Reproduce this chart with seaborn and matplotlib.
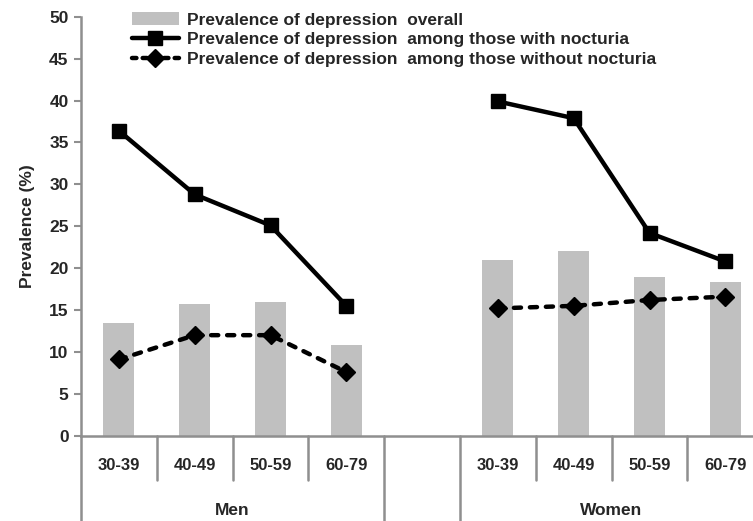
import matplotlib
matplotlib.use('Agg')
import matplotlib.pyplot as plt
import matplotlib.transforms as mtransforms
from matplotlib.lines import Line2D
from matplotlib.patches import Patch
import seaborn as sns
import pandas as pd

sns.set_theme(style='white')
plt.rcParams['font.family'] = ['Liberation Sans', 'DejaVu Sans']
plt.rcParams['font.weight'] = 'bold'

# data
age_groups = ['30-39', '40-49', '50-59', '60-79']
sexes = ['Men', 'Women']
overall = {'Men': [13.5, 15.7, 16.0, 10.8], 'Women': [21.0, 22.0, 19.0, 18.3]}
with_nocturia = {'Men': [36.4, 28.8, 25.1, 15.5], 'Women': [39.9, 37.9, 24.2, 20.8]}
without_nocturia = {'Men': [9.1, 12.0, 12.0, 7.6], 'Women': [15.2, 15.5, 16.2, 16.6]}

legend_labels = ['Prevalence of depression  overall',
                 'Prevalence of depression  among those with nocturia',
                 'Prevalence of depression  among those without nocturia']

# build long table; one empty slot between the two groups
rows = []
for g, sex in enumerate(sexes):
    for i, age in enumerate(age_groups):
        rows.append({'sex': sex, 'age': age, 'slot': g * (len(age_groups) + 1) + i,
                     'overall': overall[sex][i],
                     'with': with_nocturia[sex][i],
                     'without': without_nocturia[sex][i]})
df = pd.DataFrame(rows)
n_slots = len(age_groups) * 2 + 1

axis_grey = '#8f8f8f'
bar_grey = '#c0c0c0'
dash = (0, (1.6, 2.0))

fig = plt.figure(figsize=(7.53, 5.21), dpi=100)
ax = fig.add_axes([0.1076, 0.1637, 1.0 - 0.1076, 0.804])

sns.barplot(data=df, x='slot', y='overall', native_scale=True, width=0.41,
            color=bar_grey, saturation=1, edgecolor='none', ax=ax)

for sex in sexes:
    sub = df[df['sex'] == sex]
    ax.plot(sub['slot'], sub['with'], color='black', lw=3.2, marker='s', ms=10.5,
            solid_joinstyle='miter')
    ax.plot(sub['slot'], sub['without'], color='black', lw=3.2, ls=dash,
            marker='D', ms=9, dash_capstyle='round')

ax.set_ylim(0, 50)
ax.set_yticks(range(0, 51, 5))
ax.set_xlim(-0.5, -0.5 + 672 / 75.8)
ax.set_xticks([])
ax.set_xlabel('')
ax.set_ylabel('Prevalence (%)', fontsize=12.5, fontweight='bold', labelpad=10)
ax.tick_params(axis='y', left=True, length=5, width=1.5, color=axis_grey,
               labelsize=12.5, pad=4)
for lab in ax.get_yticklabels():
    lab.set_fontweight('bold')

for side in ['top', 'right']:
    ax.spines[side].set_visible(False)
for side in ['left', 'bottom']:
    ax.spines[side].set_color(axis_grey)
    ax.spines[side].set_linewidth(1.8)

# category / group separators below the axis
trans = mtransforms.blended_transform_factory(ax.transData, ax.transAxes)
short_y, long_y = -0.106, -0.21
for b in range(n_slots + 1):
    xb = b - 0.5
    is_long = b in (0, len(age_groups), len(age_groups) + 1)
    ax.plot([xb, xb], [0, long_y if is_long else short_y], color=axis_grey,
            lw=1.8, transform=trans, clip_on=False)

for _, r in df.iterrows():
    ax.text(r['slot'], -0.072, r['age'], transform=trans, ha='center', va='center',
            fontsize=12, fontweight='bold')
for g, sex in enumerate(sexes):
    start = g * (len(age_groups) + 1)
    ax.text(start + (len(age_groups) - 1) / 2, -0.178, sex, transform=trans,
            ha='center', va='center', fontsize=12.5, fontweight='bold')

handles = [Patch(facecolor=bar_grey, edgecolor='none'),
           Line2D([], [], color='black', lw=3.2, marker='s', ms=10.5),
           Line2D([], [], color='black', lw=3.2, ls=(0, (1.0, 1.4)), marker='D', ms=9,
                  dash_capstyle='round')]
leg = ax.legend(handles, legend_labels, loc='upper left', bbox_to_anchor=(0.0655, 1.027),
                frameon=False, fontsize=12.5, handlelength=2.7, handletextpad=0.46,
                labelspacing=0.25, borderaxespad=0)
for t in leg.get_texts():
    t.set_fontweight('bold')

fig.savefig('out.png', dpi=100)
